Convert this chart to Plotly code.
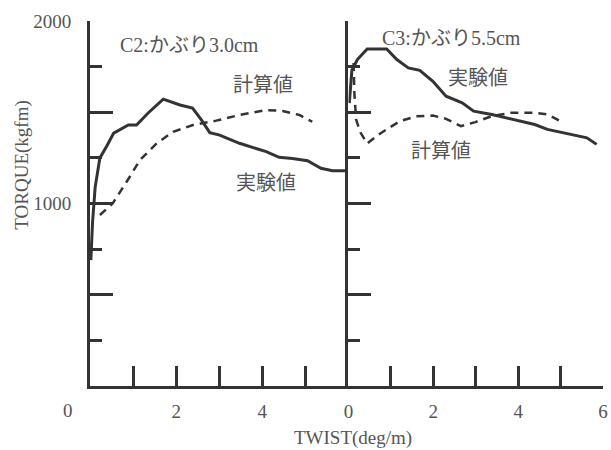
import plotly.graph_objects as go

# ---- data ----
c2_exp_x = [0.02, 0.06, 0.12, 0.23, 0.39, 0.55, 0.89, 1.08, 1.35, 1.70, 2.09, 2.38, 2.59, 2.78, 3.01, 3.47, 4.09, 4.39, 4.70, 5.05, 5.36, 5.63, 5.94]
c2_exp_y = [690, 900, 1090, 1250, 1315, 1386, 1430, 1430, 1496, 1572, 1540, 1523, 1457, 1388, 1375, 1330, 1284, 1253, 1247, 1234, 1193, 1180, 1180]
c2_calc_x = [0.23, 0.53, 0.85, 1.16, 1.55, 1.93, 2.39, 2.93, 3.47, 4.09, 4.47, 4.86, 5.16]
c2_calc_y = [937, 1002, 1119, 1238, 1330, 1393, 1430, 1454, 1485, 1512, 1507, 1485, 1448]

c3_exp_x = [0.02, 0.08, 0.21, 0.44, 0.90, 1.14, 1.41, 1.68, 1.99, 2.30, 2.68, 2.95, 3.38, 3.92, 4.39, 4.69, 5.16, 5.62, 5.85]
c3_exp_y = [1550, 1730, 1789, 1847, 1847, 1789, 1743, 1730, 1670, 1588, 1552, 1506, 1488, 1460, 1433, 1406, 1384, 1360, 1324]
c3_calc_x = [0.12, 0.14, 0.18, 0.28, 0.44, 0.75, 1.21, 1.60, 1.99, 2.30, 2.65, 2.99, 3.38, 3.84, 4.39, 4.69, 5.00]
c3_calc_y = [1770, 1600, 1460, 1390, 1329, 1384, 1451, 1478, 1482, 1464, 1424, 1446, 1479, 1497, 1497, 1488, 1451]

x_ticks = [0, 1, 2, 3, 4, 5, 6]
x_ticktext = ["0", "", "2", "", "4", "", "6"]
y_major = [500, 1000, 1500, 2000]
y_major_text = ["", "1000", "", "2000"]
y_minor = [250, 750, 1250, 1750]

INK = "#333333"
TXT = "#555555"
SERIF = "Liberation Serif, Times New Roman, serif"
JP = "Noto Sans CJK JP, sans-serif"

fig = go.Figure()
solid = dict(color=INK, width=3)
dashed = dict(color=INK, width=2.5, dash="8px,6px")
fig.add_trace(go.Scatter(x=c2_exp_x, y=c2_exp_y, mode="lines", line=solid, xaxis="x", yaxis="y", showlegend=False))
fig.add_trace(go.Scatter(x=c2_calc_x, y=c2_calc_y, mode="lines", line=dashed, xaxis="x", yaxis="y", showlegend=False))
fig.add_trace(go.Scatter(x=c3_exp_x, y=c3_exp_y, mode="lines", line=solid, xaxis="x2", yaxis="y2", showlegend=False))
fig.add_trace(go.Scatter(x=c3_calc_x, y=c3_calc_y, mode="lines", line=dashed, xaxis="x2", yaxis="y2", showlegend=False))

split = (351 - 90) / 518

xcommon = dict(range=[0, 6], showline=True, linecolor=INK, linewidth=3, ticks="inside",
               ticklen=20, tickwidth=2.5, tickcolor=INK, showgrid=False, zeroline=False,
               tickfont=dict(family=SERIF, size=19, color=TXT), ticklabelstandoff=6,
               ticklabeloverflow="allow")
ycommon = dict(range=[0, 2000], showline=True, linecolor=INK, linewidth=3, ticks="inside",
               ticklen=23, tickwidth=2.5, tickcolor=INK, showgrid=False, zeroline=False,
               tickvals=y_major,
               minor=dict(tickvals=y_minor, ticks="inside", ticklen=12, tickwidth=2.5, tickcolor=INK, showgrid=False),
               tickfont=dict(family=SERIF, size=19, color=TXT))

fig.update_layout(
    width=611, height=450,
    margin=dict(l=90, r=3, t=21, b=64),
    paper_bgcolor="white", plot_bgcolor="white",
    xaxis=dict(domain=[0, split], anchor="y", tickvals=x_ticks[1:6], ticktext=x_ticktext[1:6], **xcommon),
    xaxis2=dict(domain=[split, 1], anchor="y2", tickvals=x_ticks, ticktext=x_ticktext, **xcommon),
    yaxis=dict(anchor="x", ticktext=y_major_text, ticklabelstandoff=12, **ycommon),
    yaxis2=dict(anchor="x2", showticklabels=False, **ycommon),
)

ann = []
ann.append(dict(text="0", x=0, y=0, xref="x", yref="y", xshift=-22, yshift=-24, showarrow=False,
                xanchor="center", yanchor="middle",
                font=dict(family=SERIF, size=19, color=TXT)))
ann.append(dict(text="TORQUE(kgfm)", x=(21 - 90) / 518, y=(386 - 165) / 365, xref="paper", yref="paper",
                showarrow=False, xanchor="center", yanchor="middle",
                textangle=-90, font=dict(family=SERIF, size=19, color=TXT)))
ann.append(dict(text="TWIST(deg/m)", x=(356 - 90) / 518, y=(386 - 438) / 365, xref="paper", yref="paper",
                showarrow=False, xanchor="center", yanchor="middle",
                font=dict(family=SERIF, size=19, color=TXT)))

def label(txt, x, y, xref, anchor="center"):
    return dict(text=txt, x=x, y=y, xref=xref, yref="y", showarrow=False, xanchor=anchor, yanchor="middle",
                font=dict(family=SERIF + ", " + JP, size=20, color=TXT))

JPS = "<span style='font-family:Noto Sans CJK JP'>%s</span>"
ann.append(label("C2:" + JPS % "かぶり" + "3.0cm", 0.65, 1879, "x", "left"))
ann.append(label(JPS % "計算値", 4.02, 1660, "x"))
ann.append(label(JPS % "実験値", 4.09, 1118, "x"))
ann.append(label("C3:" + JPS % "かぶり" + "5.5cm", 0.74, 1915, "x2", "left"))
ann.append(label(JPS % "実験値", 3.06, 1696, "x2"))
ann.append(label(JPS % "計算値", 2.18, 1296, "x2"))

fig.update_layout(annotations=ann)
fig.write_html("out.html")
